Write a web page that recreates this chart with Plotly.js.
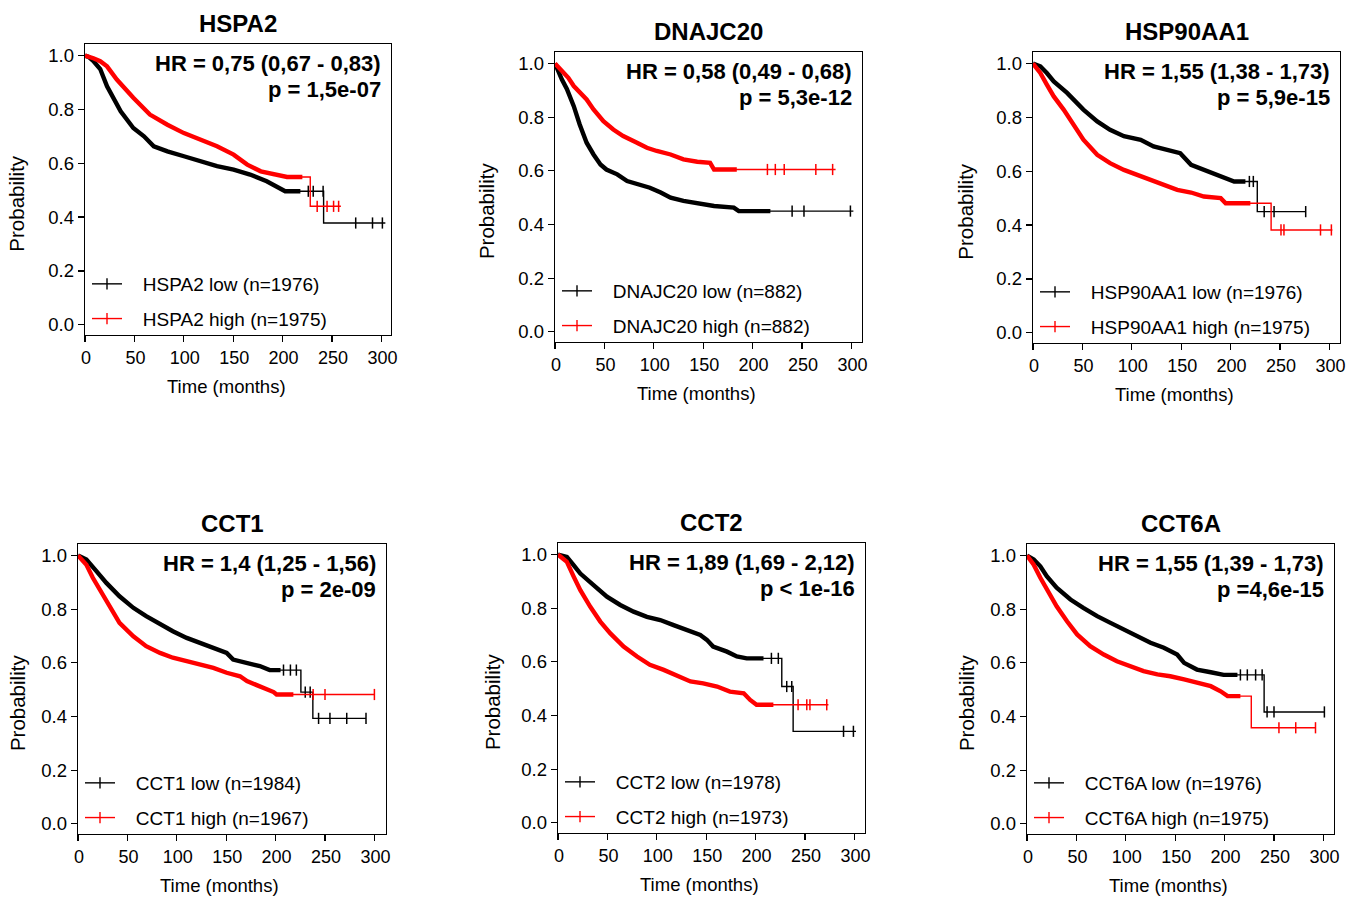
<!DOCTYPE html>
<html><head><meta charset="utf-8">
<script src="https://cdn.plot.ly/plotly-3.0.1.min.js"></script>
<style>html,body{margin:0;padding:0;background:#fff}#chart{width:1359px;height:897px}</style>
</head><body><div id="chart"></div>
<script>
// ---------- text / labels ----------
const genes = ["HSPA2", "DNAJC20", "HSP90AA1", "CCT1", "CCT2", "CCT6A"];
const lowN = [1976, 882, 1976, 1984, 1978, 1976];
const highN = [1975, 882, 1975, 1967, 1973, 1975];
const hrLabels = ["HR = 0,75 (0,67 - 0,83)", "HR = 0,58 (0,49 - 0,68)", "HR = 1,55 (1,38 - 1,73)",
                  "HR = 1,4 (1,25 - 1,56)", "HR = 1,89 (1,69 - 2,12)", "HR = 1,55 (1,39 - 1,73)"];
const pLabels = ["p = 1,5e-07", "p = 5,3e-12", "p = 5,9e-15", "p = 2e-09", "p < 1e-16", "p =4,6e-15"];
const xTickVals = [0, 50, 100, 150, 200, 250, 300];
const yTickVals = [0, 0.2, 0.4, 0.6, 0.8, 1.0];

// ---------- survival curves (time in months, probability) ----------
const hspa2LowT  = [0, 3.6, 8.5, 15.4, 22.3, 29.2, 36.1, 48.9, 59.7, 69.6, 83.4, 100.1, 116.9, 133.6, 150.4, 167.1, 183.9, 197.6, 202.6, 241.5, 241.5, 304];
const hspa2LowS  = [1.0, 0.995, 0.98, 0.95, 0.886, 0.836, 0.793, 0.731, 0.70, 0.663, 0.644, 0.626, 0.607, 0.589, 0.576, 0.558, 0.533, 0.508, 0.496, 0.496, 0.378, 0.378];
const hspa2LowCens = [226, 231, 241, 274, 291, 301];
const hspa2LowDense = 218;
const hspa2HighT = [0, 3.6, 8.5, 15.4, 22.3, 32.2, 48.9, 65.7, 83.4, 100.1, 116.9, 133.6, 150.4, 164.2, 177.9, 190.8, 204.5, 228, 228, 259];
const hspa2HighS = [1.0, 0.997, 0.99, 0.979, 0.96, 0.911, 0.843, 0.781, 0.743, 0.712, 0.688, 0.663, 0.632, 0.595, 0.570, 0.558, 0.549, 0.549, 0.44, 0.44];
const hspa2HighCens = [235, 245, 251.6, 256.7];
const hspa2HighDense = 220;

const dnajc20LowT  = [0, 3, 7, 12, 19, 25, 32, 39, 46, 52, 63, 73, 86, 96, 107, 117, 130, 144, 161, 181, 186, 302];
const dnajc20LowS  = [1.0, 0.97, 0.94, 0.905, 0.841, 0.773, 0.705, 0.661, 0.624, 0.605, 0.587, 0.562, 0.55, 0.537, 0.519, 0.50, 0.488, 0.478, 0.469, 0.463, 0.45, 0.45];
const dnajc20LowCens = [240, 252, 299];
const dnajc20LowDense = 218;
const dnajc20HighT = [0, 7, 13.5, 19, 25, 32, 39, 49, 59, 69, 83, 93, 103, 117, 130, 144, 157, 161, 284];
const dnajc20HighS = [1.0, 0.971, 0.947, 0.916, 0.891, 0.866, 0.829, 0.785, 0.754, 0.730, 0.705, 0.686, 0.674, 0.661, 0.643, 0.634, 0.630, 0.605, 0.605];
const dnajc20HighCens = [215, 223, 232, 264, 281];
const dnajc20HighDense = 184;

const hsp90LowT  = [0, 7.4, 14, 21, 34.5, 51, 65, 78, 92, 109, 122, 136, 149, 160, 173, 187, 200, 203.6, 227, 227, 276];
const hsp90LowS  = [1.0, 0.99, 0.965, 0.934, 0.891, 0.829, 0.785, 0.754, 0.730, 0.717, 0.692, 0.680, 0.667, 0.624, 0.605, 0.587, 0.568, 0.562, 0.562, 0.450, 0.450];
const hsp90LowCens = [219, 223, 234, 244, 276];
const hsp90LowDense = 215;
const hsp90HighT = [0, 7.4, 14, 21, 31, 41, 51, 65, 78, 92, 105.5, 119, 132.6, 146, 160, 173, 190, 195, 241, 241, 303];
const hsp90HighS = [1.0, 0.965, 0.922, 0.878, 0.829, 0.773, 0.717, 0.661, 0.630, 0.605, 0.587, 0.568, 0.550, 0.531, 0.521, 0.506, 0.500, 0.481, 0.481, 0.382, 0.382];
const hsp90HighCens = [251, 254, 291, 302];
const hsp90HighDense = 220;

const cct1LowT  = [0, 8.5, 18.6, 28.7, 42, 56, 69, 83, 96, 110, 123, 137, 150.5, 157, 171, 184, 194, 225.6, 225.6, 237.7, 237.7, 291.5];
const cct1LowS  = [1.0, 0.985, 0.942, 0.898, 0.848, 0.805, 0.774, 0.743, 0.718, 0.693, 0.675, 0.656, 0.637, 0.612, 0.600, 0.588, 0.573, 0.573, 0.491, 0.491, 0.393, 0.393];
const cct1LowCens = [208, 215, 221, 230, 235, 243.5, 255, 272, 291.5];
const cct1LowDense = 205;
const cct1HighT = [0, 8.5, 15, 22, 32, 42, 56, 69, 83, 96, 110, 123, 137, 150.5, 164, 171, 184, 198, 201, 300];
const cct1HighS = [1.0, 0.966, 0.917, 0.873, 0.811, 0.749, 0.699, 0.662, 0.637, 0.619, 0.606, 0.594, 0.581, 0.563, 0.550, 0.532, 0.513, 0.491, 0.482, 0.482];
const cct1HighCens = [238, 250, 300];
const cct1HighDense = 218;

const cct2LowT  = [0, 9, 16, 22.6, 36, 49.5, 63, 76.5, 90, 103.5, 117, 130, 144, 150.7, 157, 171, 181, 191, 226.5, 226.5, 238, 238, 301.6];
const cct2LowS  = [1.0, 0.991, 0.960, 0.929, 0.886, 0.843, 0.812, 0.787, 0.768, 0.756, 0.737, 0.719, 0.700, 0.682, 0.657, 0.638, 0.620, 0.613, 0.613, 0.508, 0.508, 0.341, 0.341];
const cct2LowCens = [216, 223, 231.5, 236.6, 289, 299];
const cct2LowDense = 208;
const cct2HighT = [0, 9, 16, 22.6, 32.7, 42.8, 53, 66.4, 80, 93, 107, 120, 134, 147, 161, 174, 188, 194.5, 201, 273.7];
const cct2HighS = [1.0, 0.973, 0.917, 0.867, 0.805, 0.750, 0.706, 0.657, 0.620, 0.589, 0.570, 0.551, 0.527, 0.520, 0.508, 0.489, 0.483, 0.458, 0.440, 0.440];
const cct2HighCens = [243, 251.8, 255, 272];
const cct2HighDense = 218;

const cct6aLowT  = [0, 6.8, 13.5, 20, 30, 44, 57, 71, 84.5, 98, 111.5, 125, 138.5, 152, 159, 172, 186, 199, 240, 240, 301];
const cct6aLowS  = [1.0, 0.985, 0.960, 0.923, 0.880, 0.836, 0.805, 0.774, 0.749, 0.724, 0.699, 0.675, 0.656, 0.631, 0.600, 0.575, 0.565, 0.555, 0.555, 0.417, 0.417];
const cct6aLowCens = [216, 223, 231.4, 238, 243, 250, 301];
const cct6aLowDense = 213;
const cct6aHighT = [0, 6.8, 13.5, 20, 30, 40.5, 50.7, 64, 77.7, 91, 104.7, 118, 132, 145, 159, 172, 186, 196, 203, 227, 227, 292];
const cct6aHighS = [1.0, 0.966, 0.917, 0.873, 0.811, 0.755, 0.706, 0.662, 0.631, 0.606, 0.588, 0.569, 0.557, 0.550, 0.538, 0.525, 0.513, 0.494, 0.476, 0.476, 0.358, 0.358];
const cct6aHighCens = [255, 272, 292];
const cct6aHighDense = 216;

// ---------- assembly ----------
const panels = [
  {low: [hspa2LowT, hspa2LowS, hspa2LowCens, hspa2LowDense], high: [hspa2HighT, hspa2HighS, hspa2HighCens, hspa2HighDense]},
  {low: [dnajc20LowT, dnajc20LowS, dnajc20LowCens, dnajc20LowDense], high: [dnajc20HighT, dnajc20HighS, dnajc20HighCens, dnajc20HighDense]},
  {low: [hsp90LowT, hsp90LowS, hsp90LowCens, hsp90LowDense], high: [hsp90HighT, hsp90HighS, hsp90HighCens, hsp90HighDense]},
  {low: [cct1LowT, cct1LowS, cct1LowCens, cct1LowDense], high: [cct1HighT, cct1HighS, cct1HighCens, cct1HighDense]},
  {low: [cct2LowT, cct2LowS, cct2LowCens, cct2LowDense], high: [cct2HighT, cct2HighS, cct2HighCens, cct2HighDense]},
  {low: [cct6aLowT, cct6aLowS, cct6aLowCens, cct6aLowDense], high: [cct6aHighT, cct6aHighS, cct6aHighCens, cct6aHighDense]}
];

// layout geometry (pixel boxes of the six plot frames)
const W = 1359, H = 897;
const boxes = [[85, 44, 391, 335], [555, 52, 862, 342], [1033, 52, 1340, 343],
               [78, 544, 386, 834], [558, 543, 865, 833], [1027, 544, 1334, 834]];
const pxPerMonth = 0.988;
const probShift = [68, 69, 67, 61, 66, 61];
const FONT = "Liberation Sans, Arial, Helvetica, sans-serif";
const COLORS = {low: "#000000", high: "#ff0000"};

function survAt(T, S, t) {
  for (let i = 0; i < T.length - 1; i++) {
    if (T[i + 1] > T[i] && t >= T[i] && t <= T[i + 1]) {
      return S[i] + (S[i + 1] - S[i]) * (t - T[i]) / (T[i + 1] - T[i]);
    }
  }
  return S[S.length - 1];
}

const traces = [];
const layout = {
  width: W, height: H, margin: {l: 0, r: 0, t: 0, b: 0},
  paper_bgcolor: "#ffffff", plot_bgcolor: "#ffffff",
  font: {family: FONT, color: "#000000", size: 18},
  showlegend: true, annotations: []
};

panels.forEach((p, i) => {
  const n = i + 1;
  const xa = n === 1 ? "x" : "x" + n;
  const ya = n === 1 ? "y" : "y" + n;
  const b = boxes[i];
  const legendId = n === 1 ? "legend" : "legend" + n;

  ["low", "high"].forEach(key => {
    const [T, S, C, dense] = p[key];
    const col = COLORS[key];
    // thin full curve
    traces.push({x: T, y: S, xaxis: xa, yaxis: ya, mode: "lines", type: "scatter",
      line: {color: col, width: 1.4}, showlegend: false, hoverinfo: "skip"});
    // dense-censoring band (same curve, up to last dense censoring time)
    const dT = [], dS = [];
    T.forEach((t, k) => { if (t <= dense) { dT.push(t); dS.push(S[k]); } });
    dT.push(dense); dS.push(survAt(T, S, dense));
    traces.push({x: dT, y: dS, xaxis: xa, yaxis: ya, mode: "lines", type: "scatter",
      line: {color: col, width: 4.4}, showlegend: false, hoverinfo: "skip"});
    // sparse censoring marks
    traces.push({x: C, y: C.map(t => survAt(T, S, t)), xaxis: xa, yaxis: ya, mode: "markers", type: "scatter",
      marker: {symbol: "line-ns-open", size: 8, color: col, line: {width: 1.5, color: col}},
      showlegend: false, hoverinfo: "skip"});
    // legend entry
    const nLab = key === "low" ? lowN[i] : highN[i];
    traces.push({x: [null], y: [null], xaxis: xa, yaxis: ya, mode: "lines+markers", type: "scatter",
      name: "\u00a0\u00a0\u00a0" + genes[i] + " " + key + " (n=" + nLab + ")",
      legend: legendId, legendgroup: genes[i] + key,
      line: {color: col, width: 1.4},
      marker: {symbol: "line-ns-open", size: 8, color: col, line: {width: 1.4, color: col}}});
  });

  const xRange = [0, (b[2] - b[0]) / pxPerMonth];
  layout[n === 1 ? "xaxis" : "xaxis" + n] = {
    domain: [b[0] / W, b[2] / W], anchor: ya, range: xRange,
    tickvals: xTickVals, ticktext: xTickVals.map(String),
    ticks: "outside", ticklen: 6, tickwidth: 1.2, tickcolor: "#000",
    showline: true, mirror: true, linecolor: "#000", linewidth: 1.3,
    showgrid: false, zeroline: false, tickfont: {size: 18, family: FONT, color: "#000"},
    ticklabelshift: 1
  };
  layout[n === 1 ? "yaxis" : "yaxis" + n] = {
    domain: [1 - b[3] / H, 1 - b[1] / H], anchor: xa, range: [-0.038, 1.043],
    tickvals: yTickVals, tickformat: ".1f",
    ticks: "outside", ticklen: 6, tickwidth: 1.2, tickcolor: "#000",
    showline: true, mirror: true, linecolor: "#000", linewidth: 1.3,
    showgrid: false, zeroline: false, tickfont: {size: 18.5, family: FONT, color: "#000"}
  };
  layout[legendId] = {
    x: (b[0] + 2) / W, y: 1 - (b[3] - 70) / H, xanchor: "left", yanchor: "top",
    bgcolor: "rgba(0,0,0,0)", borderwidth: 0, traceorder: "grouped", tracegroupgap: 7,
    font: {size: 19, family: FONT, color: "#000"}
  };

  const xd = xa + " domain", yd = ya + " domain";
  layout.annotations.push(
    {text: "<b>" + genes[i] + "</b>", xref: xd, yref: yd, x: 0.5, y: 1, xanchor: "center", yanchor: "middle",
     yshift: 21, showarrow: false, font: {size: 24, family: FONT, color: "#000"}},
    {text: "<b>" + hrLabels[i] + "</b>", xref: xd, yref: yd, x: 1, y: 1, xanchor: "right", yanchor: "middle",
     xshift: -8, yshift: -19, showarrow: false, font: {size: 22, family: FONT, color: "#000"}},
    {text: "<b>" + pLabels[i] + "</b>", xref: xd, yref: yd, x: 1, y: 1, xanchor: "right", yanchor: "middle",
     xshift: -8, yshift: -45, showarrow: false, font: {size: 22, family: FONT, color: "#000"}},
    {text: "Time (months)", xref: xa, yref: yd, x: 143, y: 0, xanchor: "center", yanchor: "middle",
     yshift: -51, showarrow: false, font: {size: 18.5, family: FONT, color: "#000"}},
    {text: "Probability", xref: xd, yref: ya, x: 0, y: 0.45, xanchor: "center", yanchor: "middle",
     xshift: -probShift[i], textangle: -90, showarrow: false, font: {size: 20.5, family: FONT, color: "#000"}}
  );
});

Plotly.newPlot("chart", traces, layout, {displayModeBar: false, staticPlot: true});
</script>
</body></html>
